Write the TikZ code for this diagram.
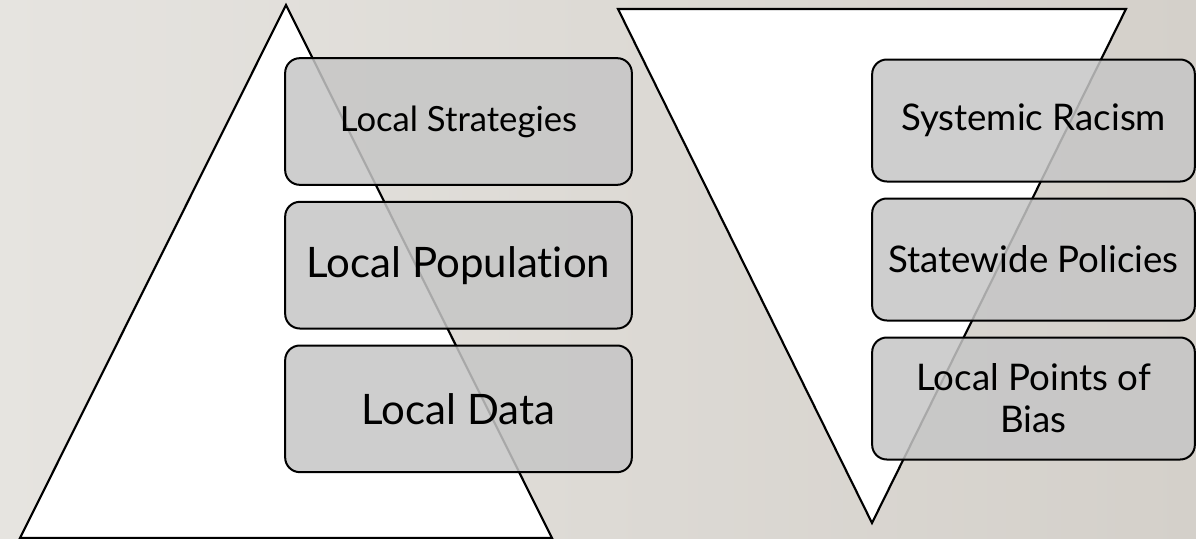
\documentclass[tikz,border=0pt]{standalone}
\usepackage{fontspec}
\setmainfont{Lato}[Ligatures=NoCommon]
\usetikzlibrary{positioning}

\definecolor{bgleft}{RGB}{230,228,224}
\definecolor{bgright}{RGB}{212,208,202}
\definecolor{boxgray}{RGB}{198,198,198}

\tikzset{
  tri/.style={draw=black, line width=1.6pt, fill=white, line join=miter},
  stack/.style={draw=black, line width=1.5pt, rounded corners=11pt, fill=boxgray,
    fill opacity=0.85, text opacity=1, align=center, inner sep=0pt},
  leftstack/.style={stack, minimum width=260pt, minimum height=95pt},
  rightstack/.style={stack, minimum width=242pt, minimum height=91.5pt},
}

\begin{document}
\begin{tikzpicture}[x=0.75pt, y=-0.75pt]
    \def\smalltext{\fontsize{26}{30}\selectfont}
    \def\righttext{\fontsize{27.5}{31.5}\selectfont}
    \def\bigtext{\fontsize{31.5}{36}\selectfont}
    \useasboundingbox (0,0) rectangle (1196,539);
    \shade[left color=bgleft, right color=bgright] (0,0) rectangle (1196,539);
    % upward triangle
    \coordinate (U0) at (286,5);
    \coordinate (U1) at (20,538);
    \coordinate (U2) at (552,538);
    \draw[tri] (U0) -- (U1) -- (U2) -- cycle;
    % downward triangle
    \coordinate (D0) at (618,9);
    \coordinate (D1) at (1126,9);
    \coordinate (D2) at (872,523);
    \draw[tri] (D0) -- (D1) -- (D2) -- cycle;
    % left stack
    \node[leftstack, font=\smalltext] (strategies) at (458.5,121.5) {Local Strategies};
    \node[leftstack, font=\bigtext, below=11.25pt of strategies] (population) {Local Population};
    \node[leftstack, font=\bigtext, below=11.25pt of population] (data) {Local Data};
    % right stack
    \node[rightstack, font=\righttext] (racism) at (1033.5,120.5) {Systemic Racism};
    \node[rightstack, font=\righttext, below=11.25pt of racism] (policies) {Statewide Policies};
    \node[rightstack, font=\righttext, below=11.25pt of policies] (bias) {Local Points of\\Bias};
\end{tikzpicture}
\end{document}
